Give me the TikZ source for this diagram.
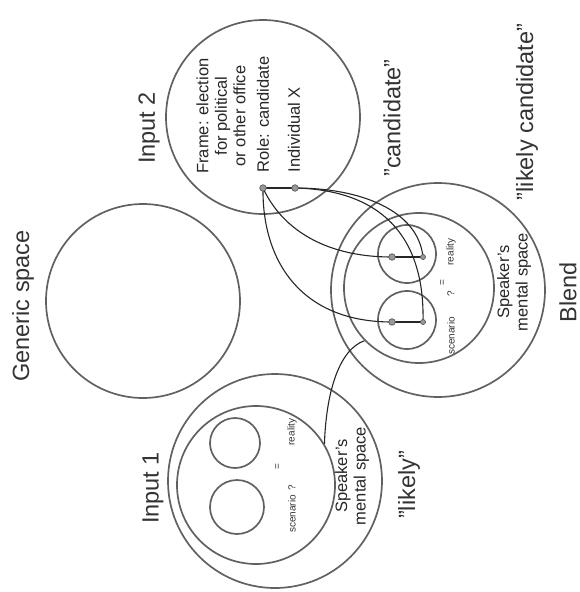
\documentclass[tikz,border=0pt]{standalone}
\usepackage{fontspec}
\setmainfont{Liberation Sans}
\begin{document}
\begin{tikzpicture}[x=1pt,y=-1pt,
  space/.style={circle, draw=black!62, line width=1.7pt, inner sep=0pt},
  link/.style={draw=black!85, line width=1.1pt},
  elem/.style={circle, fill=black!40, draw=black!65, line width=0.7pt, inner sep=0pt, minimum size=6.5pt},
  lbl/.style={rotate=90, font=\fontsize{23.5}{27}\selectfont, text=black!80},
  txt/.style={rotate=90, font=\fontsize{16.5}{18.5}\selectfont, text=black!85, align=center},
  tiny/.style={rotate=90, font=\fontsize{10}{12}\selectfont, text=black!80, inner sep=0pt},
]
\useasboundingbox (0,0) rectangle (580,592);
% mental spaces
\node[space, minimum size=194pt] (generic) at (143,301) {};
\node[space, minimum size=194pt] (in2) at (263,117) {};
\node[space, minimum size=214pt] (in1) at (275,481) {};
\node[space, minimum size=158pt] (in1sp) at (256,485) {};
\node[space, minimum size=50pt] (in1a) at (235,443) {};
\node[space, minimum size=54pt] (in1b) at (237,507) {};
\node[space, minimum size=214pt] (blend) at (438,290) {};
\node[space, minimum size=150pt] (blsp) at (419,288) {};
\node[space, minimum size=58pt] (bla) at (407,254) {};
\node[space, minimum size=58pt] (blb) at (407,320) {};
% labels
\node[lbl] (lgen) at (23,306) {Generic space};
\node[lbl] (lin2) at (149,128) {Input 2};
\node[lbl] (lin1) at (153,488) {Input 1};
\node[lbl] (lcand) at (392,118) {"candidate"};
\node[lbl] (llc) at (527,112) {"likely candidate"};
\node[lbl] (lblend) at (568,292) {Blend};
\node[lbl] (llikely) at (409,485) {"likely"};
% input 2 contents
\node[txt] (frame) at (221,116) {Frame: election\\for political\\or other office};
\node[txt, anchor=west] (roletxt) at (263,176) {Role: candidate};
\node[txt, anchor=west] (indtxt) at (294,176) {Individual X};
% speaker's mental space labels
\node[txt] (sp1) at (352,476) {Speaker's\\mental space};
\node[txt] (sp2) at (514,282) {Speaker's\\mental space};
% scenario / reality
\node[tiny] (sc1) at (292,514) {scenario};
\node[tiny] (q1) at (292,488) {?};
\node[tiny] (eq1) at (278,467) {=};
\node[tiny] (re1) at (292,432) {reality};
\node[tiny] (sc2) at (451,336) {scenario};
\node[tiny] (q2) at (451,294) {?};
\node[tiny] (eq2) at (443,283) {=};
\node[tiny] (re2) at (451,252) {reality};
% element points
\coordinate (role) at (263,188);
\coordinate (indiv) at (295,188);
\coordinate (bul) at (392,257);
\coordinate (bur) at (423,257);
\coordinate (bll) at (392,322);
\coordinate (blr) at (423,322);
% connectors
\draw[link] (role) -- (indiv);
\draw[link] (role) .. controls (280,225) and (320,257) .. (bul);
\draw[link] (role) .. controls (262,260) and (300,322) .. (bll);
\draw[link] (indiv) .. controls (360,188) and (418,210) .. (bur);
\draw[link] (indiv) .. controls (380,190) and (425,235) .. (blr);
\draw[link] (bul) -- (bur);
\draw[link] (bll) -- (blr);
\draw[link] (in1sp.31) .. controls (326,395) and (338,350) .. (blsp.224);
% dots
\node[elem] (drole) at (role) {};
\node[elem] (dind) at (indiv) {};
\node[elem] (dbul) at (bul) {};
\node[elem, minimum size=5pt] (dbur) at (bur) {};
\node[elem] (dbll) at (bll) {};
\node[elem, minimum size=5pt] (dblr) at (blr) {};
\end{tikzpicture}
\end{document}
